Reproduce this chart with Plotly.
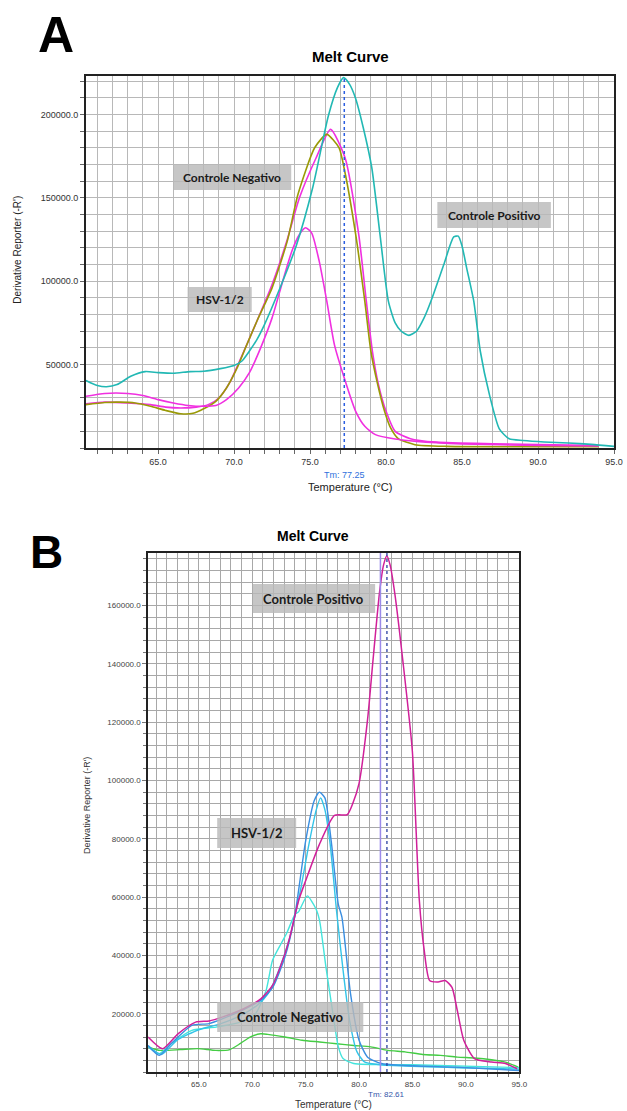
import plotly.graph_objects as go

W, H = 627, 1111

# ---------------- Panel A data ----------------
a_cyan_T = [60.25, 61.0, 61.6, 62.3, 63.2, 64.15, 65.0, 66.0, 67.1, 68.0, 69.1, 70.0, 70.5, 71.0, 71.5, 72.0,
            72.98, 74.08, 75.17, 76.2, 76.8, 77.2, 77.6, 77.98, 78.5, 79.06, 79.6, 80.15, 80.6, 81.0, 81.5,
            82.0, 82.5, 82.95, 83.8, 84.45, 84.75, 85.0, 85.3, 85.77, 86.2, 86.8, 87.45, 88.1, 89.0, 90.4,
            92.0, 93.5, 95.0]
a_cyan_v = [40500, 37500, 36700, 38000, 43000, 45800, 45200, 44800, 45800, 46000, 47600, 49500, 52000, 58000,
            65000, 74000, 95000, 121000, 156000, 199000, 216000, 222000, 218000, 210000, 192000, 168000, 128000,
            88000, 75000, 70000, 67500, 70000, 78000, 88000, 110000, 126500, 127000, 121000, 108000, 88000,
            58000, 32000, 11500, 5500, 4500, 3600, 3000, 2200, 1000]

a_hsv_T = [60.25, 61.5, 63.0, 64.0, 65.0, 66.0, 67.0, 68.0, 68.8, 69.5, 70.3, 71.0, 71.7, 72.5, 73.2, 73.8,
           74.3, 74.7, 75.1, 75.6, 76.1, 76.6, 77.25, 78.0, 78.6, 79.3, 80.6, 82.0, 85.0, 90.0, 94.0]
a_hsv_v = [31000, 32700, 32700, 31500, 29000, 27000, 25500, 25000, 25500, 29000, 36000, 45000, 59000, 78000,
           100000, 118000, 128000, 132000, 129000, 112000, 88000, 62000, 42000, 22000, 13000, 8000, 5400,
           4000, 2500, 1500, 1200]

a_neg_T = [60.25, 61.5, 63.0, 64.5, 65.5, 66.5, 67.5, 68.3, 69.0, 69.7, 70.5, 71.5, 72.5, 73.5, 74.3, 75.4,
           76.35, 77.3, 78.2, 78.7, 79.1, 79.5, 80.0, 80.6, 81.6, 83.3, 87.0, 94.0]
a_neg_v = [26500, 27500, 27000, 26000, 24500, 24000, 24500, 26000, 30000, 39000, 55000, 76000, 98000, 125000,
           150000, 174000, 191000, 174000, 128000, 88000, 58000, 38000, 22000, 10000, 5600, 3500, 2500, 1500]

a_olive_T = [60.25, 61.5, 62.5, 63.5, 64.5, 65.5, 66.5, 67.3, 68.0, 68.8, 69.5, 70.2, 70.7, 71.5, 72.5, 73.5,
             74.2, 75.3, 76.1, 76.9, 77.3, 78.0, 78.6, 79.0, 79.4, 79.9, 80.3, 80.8, 81.9, 84.0, 94.0]
a_olive_v = [26000, 27300, 27500, 27000, 25000, 22500, 20500, 20800, 23500, 28000, 36000, 48000, 59000, 76000,
             96000, 124000, 152000, 180000, 188000, 180000, 165000, 128000, 88000, 58000, 40000, 22000, 12000,
             5600, 2000, 1000, 800]

a_tm = 77.25

# ---------------- Panel B data ----------------
b_pos_T = [60.25, 61.6, 63.05, 64.7, 65.96, 67.25, 69.2, 70.8, 71.9, 73.06, 73.5, 74.35, 74.99, 76.28, 77.7,
           78.9, 79.4, 80.0, 80.8, 81.3, 81.9, 82.3, 82.6, 82.9, 83.35, 84.1, 84.99, 85.64, 86.1, 86.6, 87.4,
           88.06, 88.7, 89.2, 89.8, 90.8, 92.4, 93.7, 94.8]
b_pos_v = [12000, 8000, 13100, 17100, 17500, 18900, 21700, 25100, 29700, 40600, 46000, 58900, 65500, 78000,
           88000, 88300, 92000, 99000, 121000, 141000, 164000, 174000, 177000, 174000, 164000, 141000, 110000,
           59000, 41700, 31400, 30900, 31400, 29000, 21000, 10900, 4600, 3400, 2900, 1100]

b_blue_T = [60.25, 61.3, 62.4, 64.35, 65.96, 67.25, 69.2, 70.8, 71.9, 73.06, 74.0, 74.99, 75.8, 76.28, 76.8,
            77.4, 78.06, 78.4, 79.2, 80.0, 80.8, 82.1, 84.0, 90.0, 95.0]
b_blue_v = [9100, 5700, 9700, 16000, 16600, 18300, 21400, 24600, 28900, 39400, 54000, 79000, 93000, 96000,
            94000, 79000, 57500, 53000, 26900, 10900, 5100, 2900, 2300, 1500, 500]

b_cyan_T = [60.25, 61.5, 63.0, 65.0, 67.0, 69.0, 70.5, 71.5, 72.5, 73.5, 74.5, 75.3, 76.0, 76.4, 76.8, 77.3,
            77.9, 78.5, 79.1, 79.8, 80.5, 82.0, 95.0]
b_cyan_v = [9000, 6000, 11000, 14500, 16500, 19500, 23000, 27000, 35000, 46000, 62000, 78000, 90000, 94000,
            90000, 78000, 55000, 35000, 18000, 7000, 3500, 2500, 1000]

b_turq_T = [60.25, 61.3, 62.4, 64.35, 66.6, 68.86, 70.3, 71.3, 71.9, 72.7, 73.2, 74.0, 74.35, 75.15, 75.96,
            76.3, 76.9, 77.6, 78.06, 78.5, 79.5, 85.0, 95.0]
b_turq_v = [8600, 6300, 9700, 14300, 15400, 17100, 20000, 28000, 38300, 44000, 47400, 54000, 55000, 60400,
            56000, 52000, 36000, 18900, 8600, 4600, 2900, 2500, 1500]

b_neg_T = [60.25, 61.4, 63.3, 64.9, 66.6, 67.9, 68.86, 69.8, 70.8, 71.45, 73.06, 74.67, 76.3, 77.9, 79.5,
           81.1, 82.7, 84.3, 85.96, 87.6, 89.2, 90.8, 92.4, 93.7, 94.9]
b_neg_v = [8600, 7400, 7700, 8000, 7400, 7700, 9700, 12000, 13100, 12900, 12000, 10900, 10300, 9700, 9100,
           8600, 7400, 6900, 6000, 5700, 5100, 4800, 4200, 3400, 1700]

b_tm = 82.61
b_marker_line = 82.0

a_xticks = [65.0, 70.0, 75.0, 80.0, 85.0, 90.0, 95.0]
a_yticks = [50000, 100000, 150000, 200000]
b_xticks = [65.0, 70.0, 75.0, 80.0, 85.0, 90.0, 95.0]
b_yticks = [20000, 40000, 60000, 80000, 100000, 120000, 140000, 160000]

# ---------------- layout helpers ----------------
def px(x):
    return x / W

def py(y):
    return 1 - y / H

fig = go.Figure()

def add_line(T, v, color, ax, width=1.6):
    fig.add_trace(go.Scatter(x=T, y=v, mode="lines", xaxis=ax[0], yaxis=ax[1],
                             line=dict(color=color, width=width, shape="spline", smoothing=0.6),
                             showlegend=False, hoverinfo="skip"))

A = ("x", "y")
B = ("x2", "y2")
add_line(a_neg_T, a_neg_v, "#f030e0", A)
add_line(a_olive_T, a_olive_v, "#9a9a06", A)
add_line(a_hsv_T, a_hsv_v, "#f030e0", A)
add_line(a_cyan_T, a_cyan_v, "#22b8b4", A)

add_line(b_neg_T, b_neg_v, "#44cc44", B, 1.4)
add_line(b_turq_T, b_turq_v, "#44e4dc", B, 1.4)
add_line(b_cyan_T, b_cyan_v, "#33c4e8", B, 1.4)
add_line(b_blue_T, b_blue_v, "#3a8ee0", B, 1.4)
add_line(b_pos_T, b_pos_v, "#d0209a", B, 1.5)

grid_a = "#b8b8b8"
grid_b = "#a8a8a8"
tickfont_a = dict(family="Liberation Sans", size=9, color="#333333")
tickfont_b = dict(family="Liberation Sans", size=8, color="#444444")

common_x = dict(range=[60.25, 95.0], tickmode="array", tickformat=".1f", showline=True, mirror=True,
                linecolor="#222222", linewidth=1.5, ticks="outside", ticklen=4, zeroline=False)
common_y = dict(tickmode="array", tickformat=".1f", showline=True, mirror=True,
                linecolor="#222222", linewidth=1.5, ticks="outside", ticklen=4, zeroline=False)

fig.update_layout(
    width=W, height=H, margin=dict(l=0, r=0, t=0, b=0),
    paper_bgcolor="white", plot_bgcolor="white",
    xaxis=dict(**common_x, domain=[px(87), px(622)], anchor="y", tickvals=a_xticks, tickfont=tickfont_a,
               gridcolor=grid_a, gridwidth=1.3, tickcolor="#666",
               minor=dict(tick0=0, dtick=1, showgrid=True, gridcolor=grid_a, gridwidth=1.3,
                          ticks="outside", ticklen=4, tickcolor="#666")),
    yaxis=dict(**common_y, domain=[py(448), py(76)], anchor="x", range=[0, 223000], tickvals=a_yticks,
               tickfont=tickfont_a, gridcolor=grid_a, gridwidth=1.3, tickcolor="#666",
               minor=dict(tick0=0, dtick=10000, showgrid=True, gridcolor=grid_a, gridwidth=1.3,
                          ticks="outside", ticklen=4, tickcolor="#666")),
    xaxis2=dict(**common_x, domain=[px(150), px(526)], anchor="y2", tickvals=b_xticks, tickfont=tickfont_b,
                gridcolor=grid_b, gridwidth=1, tickcolor="#777",
                minor=dict(tick0=0, dtick=1, showgrid=True, gridcolor=grid_b, gridwidth=1,
                           ticks="outside", ticklen=3, tickcolor="#777")),
    yaxis2=dict(**common_y, domain=[py(1072), py(553)], anchor="x2", range=[0, 178000], tickvals=b_yticks,
                tickfont=tickfont_b, gridcolor=grid_b, gridwidth=1, tickcolor="#777",
                minor=dict(tick0=0, dtick=4000, showgrid=True, gridcolor=grid_b, gridwidth=1,
                           ticks="outside", ticklen=3, tickcolor="#777")),
)

shapes = []
annotations = []

def text(x, y, s, size, color="#000", bold=False, family="Liberation Sans", xref="paper", angle=0):
    annotations.append(dict(x=x if xref != "paper" else px(x), y=py(y), xref=xref, yref="paper",
                            text=("<b>%s</b>" % s) if bold else s, showarrow=False, textangle=angle,
                            font=dict(family=family, size=size, color=color),
                            xanchor="center", yanchor="middle"))

def box(x0, y0, x1, y1, label, size):
    shapes.append(dict(type="rect", xref="paper", yref="paper", x0=px(x0), x1=px(x1), y0=py(y1), y1=py(y0),
                       fillcolor="rgba(185,185,185,0.82)", line=dict(width=0), layer="above"))
    text((x0 + x1) / 2, (y0 + y1) / 2, label, size, color="#1a1a1a", bold=True, family="Lato")

# Tm lines
shapes.append(dict(type="line", xref="x", yref="y domain", x0=a_tm, x1=a_tm, y0=0, y1=1,
                   line=dict(color="#2a5ee0", width=1.5, dash="dot")))
shapes.append(dict(type="line", xref="x2", yref="y2 domain", x0=b_marker_line, x1=b_marker_line, y0=0, y1=1,
                   line=dict(color="#9a8ae8", width=1.5)))
shapes.append(dict(type="line", xref="x2", yref="y2 domain", x0=b_tm, x1=b_tm, y0=0, y1=1,
                   line=dict(color="#2a3fa0", width=1.3, dash="dot")))

# Panel A texts
text(57, 35, "A", 50, bold=True)
text(355, 57, "Melt Curve", 15, bold=True)
text(17, 250, "Derivative Reporter (-R')", 10, color="#222", angle=-90)
text(a_tm, 475, "Tm: %.2f" % a_tm, 9, color="#2f6fdc", xref="x")
text(355, 487, "Temperature (°C)", 11, color="#222")
box(176, 165, 295, 190, "Controle Negativo", 12)
box(190, 287, 255, 312, "HSV-1/2", 12)
box(443, 202, 558, 228, "Controle Positivo", 12)

# Panel B texts
text(47, 552, "B", 46, bold=True)
text(317, 536, "Melt Curve", 14, bold=True)
text(88, 805, "Derivative Reporter (-R')", 9, color="#333", angle=-90)
text(b_tm, 1094, "Tm: %.2f" % b_tm, 8, color="#3355aa", xref="x2")
text(338, 1104, "Temperature (°C)", 10, color="#333")
box(256, 584, 380, 613, "Controle Positivo", 13)
box(220, 818, 300, 848, "HSV-1/2", 13)
box(220, 1002, 368, 1032, "Controle Negativo", 13)

fig.update_layout(shapes=shapes, annotations=annotations)
fig.write_html("out.html")
